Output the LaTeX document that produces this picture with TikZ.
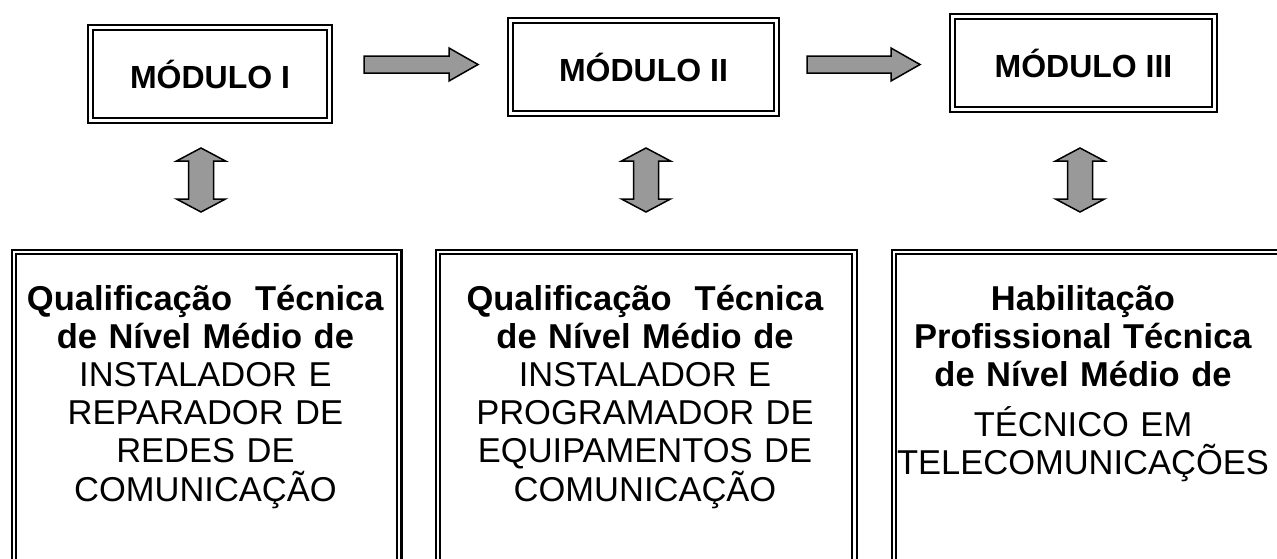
\documentclass[tikz,border=0pt]{standalone}
\usepackage{fontspec}
\setmainfont{Liberation Sans}
\definecolor{arrowgray}{RGB}{153,153,153}
\begin{document}
\begin{tikzpicture}[x=1pt,y=-1pt,
  topbox/.style={draw=black, line width=2.2pt, double=white, double distance=3pt,
    minimum height=92.6pt, inner sep=0pt, font=\fontsize{32}{38}\selectfont\bfseries},
  botbox/.style={draw=black, line width=2.2pt, double=white, double distance=2.2pt,
    minimum height=330pt, inner sep=0pt, anchor=north west},
  bottext/.style={text width=420pt, align=center, inner sep=0pt, anchor=base,
    font=\fontsize{34.5}{38.2}\selectfont},
  blockarrow/.style={draw=black, line width=1.5pt, fill=arrowgray, line join=miter}]
\useasboundingbox (0,0) rectangle (1277,558);
\clip (0,0) rectangle (1277,558);

% top boxes
\node[topbox, minimum width=238.6pt] (m1) at (210,74) {MÓDULO I\hspace{26pt}};
\node[topbox, minimum width=265.6pt] (m2) at (643.5,67) {MÓDULO II};
\node[topbox, minimum width=261.6pt] (m3) at (1083.5,63) {MÓDULO III};

% horizontal block arrows
\draw[blockarrow] (364,56) -- (449,56) -- (449,48) -- (478,64.5) -- (449,81) -- (449,73) -- (364,73) -- cycle;
\draw[blockarrow] (807,56) -- (891,56) -- (891,48) -- (920,64.5) -- (891,81) -- (891,73) -- (807,73) -- cycle;

% vertical double arrows
\foreach \cx in {201,646,1080}{
  \draw[blockarrow] (\cx,148) -- (\cx+24.5,161) -- (\cx+12.5,161) -- (\cx+12.5,199) -- (\cx+24.5,199)
    -- (\cx,212) -- (\cx-24.5,199) -- (\cx-12.5,199) -- (\cx-12.5,161) -- (\cx-24.5,161) -- cycle;
}

% bottom boxes
\node[botbox, minimum width=385.4pt] (b1) at (12.7,250.7) {};
\node[botbox, minimum width=416.6pt] (b2) at (436.7,250.7) {};
\node[botbox, minimum width=420pt] (b3) at (892.7,250.7) {};

% bottom texts
\node[bottext] (t1) at (205.4,310) {\textbf{Qualificação~ Técnica}\\ \textbf{de Nível Médio de}\\ INSTALADOR E\\ REPARADOR DE\\ REDES DE\\ COMUNICAÇÃO};
\node[bottext] (t2) at (645,310) {\textbf{Qualificação~ Técnica}\\ \textbf{de Nível Médio de}\\ INSTALADOR E\\ PROGRAMADOR DE\\ EQUIPAMENTOS DE\\ COMUNICAÇÃO};
\node[bottext] (t3) at (1083,310) {\textbf{Habilitação}\\ \textbf{Profissional Técnica}\\ \textbf{de Nível Médio de}\\[12pt] TÉCNICO EM\\ TELECOMUNICAÇÕES};
\end{tikzpicture}
\end{document}
